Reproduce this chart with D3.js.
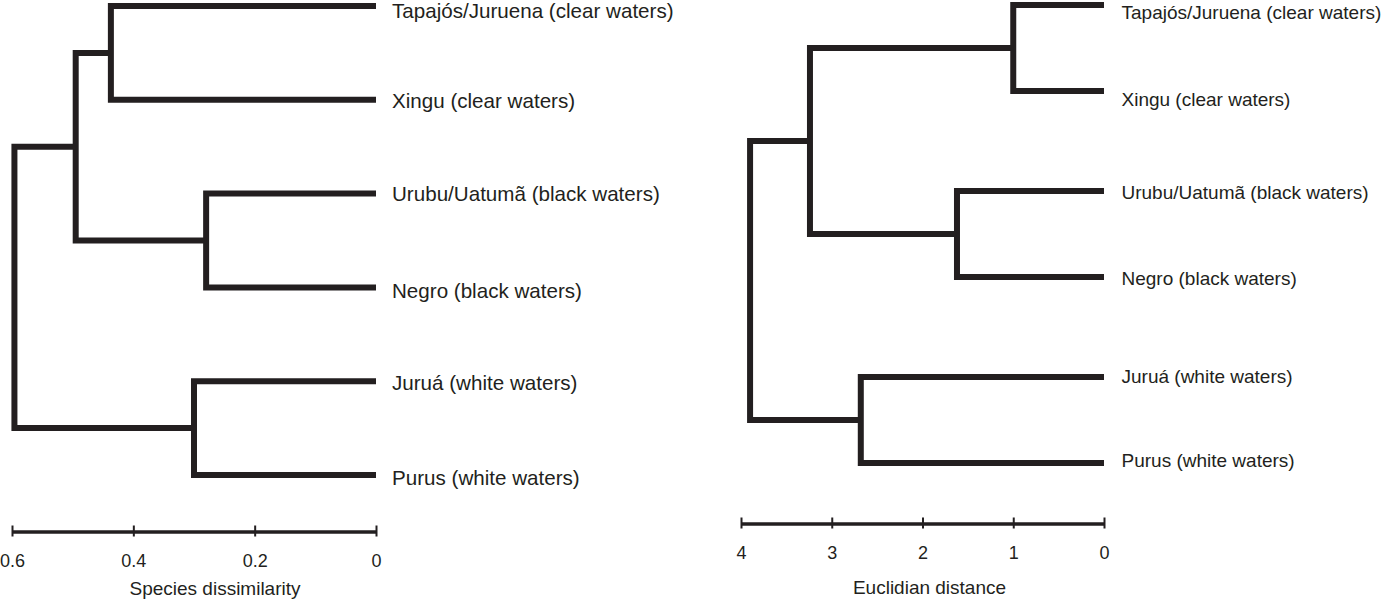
<!DOCTYPE html>
<html>
<head>
<meta charset="utf-8">
<script src="https://cdn.jsdelivr.net/npm/d3@7"></script>
<style>
  html, body { margin: 0; padding: 0; background: #ffffff; }
  svg { display: block; }
  text { font-family: "Liberation Sans", Arial, Helvetica, sans-serif; fill: #231f20; }
</style>
</head>
<body>
<svg id="chart" width="1383" height="606"></svg>
<script>
// ---- data ----
const leafNames = [
  "Tapajós/Juruena (clear waters)",
  "Xingu (clear waters)",
  "Urubu/Uatumã (black waters)",
  "Negro (black waters)",
  "Juruá (white waters)",
  "Purus (white waters)"
];
// merges: node ids 6..10, children reference leaf (0-5) or merge ids
const mergeChildren = [[0, 1], [2, 3], [4, 5], [6, 7], [9, 8]];
const dissimilarityHeights = [0.437, 0.280, 0.300, 0.495, 0.596];
const euclidianHeights = [1.00, 1.62, 2.68, 3.24, 3.90];
const dissimilarityTicks = [0.6, 0.4, 0.2, 0];
const dissimilarityTickLabels = ["0.6", "0.4", "0.2", "0"];
const euclidianTicks = [4, 3, 2, 1, 0];
const euclidianTickLabels = ["4", "3", "2", "1", "0"];
const axisTitles = ["Species dissimilarity", "Euclidian distance"];

const ink = "#231f20";
const svg = d3.select("#chart");

function drawDendrogram(cfg) {
  const g = svg.append("g");
  const x = d3.scaleLinear().domain(cfg.domain).range(cfg.range);
  // leaf y positions: pairs with group spacing
  const leafY = leafNames.map((_, i) => cfg.y0 + Math.floor(i / 2) * cfg.groupStep + (i % 2) * cfg.pairStep);
  const nodes = leafNames.map((n, i) => ({ x: x(0), y: leafY[i], leaf: true }));
  mergeChildren.forEach((ch, k) => {
    const a = nodes[ch[0]], b = nodes[ch[1]];
    nodes.push({ x: x(cfg.heights[k]), y: (a.y + b.y) / 2, children: [a, b] });
  });
  nodes.filter(n => n.children).forEach(n => {
    const [a, b] = n.children;
    const p = d3.path();
    p.moveTo(a.x, a.y);
    p.lineTo(n.x, a.y);
    p.lineTo(n.x, b.y);
    p.lineTo(b.x, b.y);
    g.append("path")
      .attr("d", p.toString())
      .attr("fill", "none")
      .attr("stroke", ink)
      .attr("stroke-width", 6)
      .attr("stroke-linejoin", "miter")
      .attr("stroke-linecap", "butt");
  });
  // leaf labels
  g.selectAll("text.leaf")
    .data(leafNames)
    .join("text")
    .attr("class", "leaf")
    .attr("x", x(0) + cfg.labelGap)
    .attr("y", (d, i) => leafY[i] + cfg.labelNudge[i] + cfg.labelSize * 0.358)
    .attr("font-size", cfg.labelSize)
    .text(d => d);

  // axis
  const axis = d3.axisBottom(x)
    .tickValues(cfg.ticks)
    .tickFormat((d, i) => cfg.tickLabels[i])
    .tickSizeOuter(0)
    .tickSizeInner(0)
    .tickPadding(0);
  const ag = g.append("g").attr("transform", `translate(0,${cfg.axisY})`).call(axis);
  ag.select(".domain").attr("stroke", ink).attr("stroke-width", 3.5);
  ag.selectAll(".tick line")
    .attr("y1", -6).attr("y2", 5)
    .attr("stroke", ink).attr("stroke-width", 2);
  ag.selectAll(".tick text")
    .attr("y", cfg.tickLabelDy)
    .attr("dy", null)
    .attr("font-size", cfg.tickSize)
    .attr("font-family", "Liberation Sans, Arial, sans-serif")
    .attr("fill", ink);
  g.append("text")
    .attr("x", (cfg.range[0] + cfg.range[1]) / 2 + cfg.titleDx)
    .attr("y", cfg.titleY)
    .attr("text-anchor", "middle")
    .attr("font-size", cfg.titleSize)
    .text(cfg.title);
}

drawDendrogram({
  domain: [0.6, 0], range: [12, 376],
  heights: dissimilarityHeights,
  y0: 6, groupStep: 187.6, pairStep: 93.8,
  labelGap: 16, labelSize: 20.6, labelNudge: [5, 1, 0, 3.5, 1, 2.5],
  ticks: dissimilarityTicks, tickLabels: dissimilarityTickLabels,
  axisY: 531.5, tickLabelDy: 35, tickSize: 18,
  title: axisTitles[0], titleDx: 21, titleY: 594.5, titleSize: 19
});

drawDendrogram({
  domain: [4, 0], range: [741, 1104],
  heights: euclidianHeights,
  y0: 5, groupStep: 186, pairStep: 86,
  labelGap: 17.5, labelSize: 19, labelNudge: [7.5, 8.5, 1, 1.5, -1, -3],
  ticks: euclidianTicks, tickLabels: euclidianTickLabels,
  axisY: 523.5, tickLabelDy: 35, tickSize: 18,
  title: axisTitles[1], titleDx: 7, titleY: 593.5, titleSize: 19
});
</script>
</body>
</html>
